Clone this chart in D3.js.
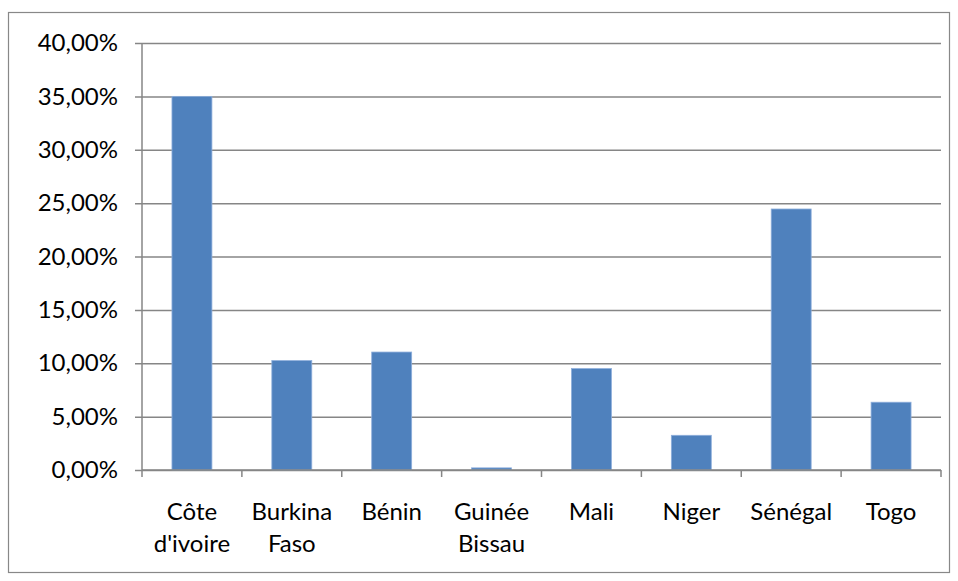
<!DOCTYPE html>
<html>
<head>
<meta charset="utf-8">
<script src="https://cdn.jsdelivr.net/npm/d3@7"></script>
<style>
  body { margin: 0; background: #fff; }
  text { font-family: Lato, "Open Sans", sans-serif; fill: #000; }
</style>
</head>
<body>
<svg id="chart" width="958" height="581"></svg>
<script>
// categories and values (share, %)
const countries = [
  ["Côte", "d'ivoire"],
  ["Burkina", "Faso"],
  ["Bénin"],
  ["Guinée", "Bissau"],
  ["Mali"],
  ["Niger"],
  ["Sénégal"],
  ["Togo"]
];
const shares = [35.0, 10.25, 11.05, 0.2, 9.5, 3.25, 24.45, 6.35];
const yTicks = [0, 5, 10, 15, 20, 25, 30, 35, 40];

const svg = d3.select("#chart");
const margin = { left: 142, right: 17, top: 43, bottom: 111 };
const W = 958, H = 581;
const innerW = W - margin.left - margin.right;
const innerH = H - margin.top - margin.bottom;

// outer frame
svg.append("rect")
  .attr("x", 8.5).attr("y", 12.5)
  .attr("width", 941).attr("height", 560)
  .attr("fill", "none")
  .attr("stroke", "#888")
  .attr("stroke-width", 1.2);

const g = svg.append("g")
  .attr("transform", "translate(" + margin.left + "," + margin.top + ")");

const x = d3.scaleBand()
  .domain(d3.range(countries.length))
  .range([0, innerW])
  .paddingInner(0.6)
  .paddingOuter(0.3);

const y = d3.scaleLinear().domain([0, 40]).range([innerH, 0]);

const fmt = d => d3.format(".2f")(d).replace(".", ",") + "%";

// gridlines + y axis
const yAxis = g.append("g")
  .call(d3.axisLeft(y).tickValues(yTicks).tickSize(-innerW).tickFormat(fmt).tickPadding(24));
yAxis.select(".domain").remove();
yAxis.selectAll(".tick line")
  .attr("x1", -7)
  .attr("stroke", "#868686")
  .attr("stroke-width", 1.5);
yAxis.selectAll(".tick text")
  .style("font-size", "24px")
  .style("font-family", "Lato, 'Open Sans', sans-serif");

// vertical axis line
g.append("line")
  .attr("x1", 0).attr("x2", 0)
  .attr("y1", 0).attr("y2", innerH)
  .attr("stroke", "#868686")
  .attr("stroke-width", 1.5);

// bars
g.selectAll(".bar")
  .data(shares)
  .enter()
  .append("rect")
  .attr("class", "bar")
  .attr("x", (d, i) => x(i))
  .attr("y", d => y(d))
  .attr("width", x.bandwidth())
  .attr("height", d => innerH - y(d))
  .attr("fill", "#4F81BD")
  .attr("stroke", "#8EAEDB")
  .attr("stroke-width", 0.8);

// x axis baseline and boundary ticks
const step = innerW / countries.length;
g.append("line")
  .attr("x1", 0).attr("x2", innerW)
  .attr("y1", innerH).attr("y2", innerH)
  .attr("stroke", "#868686")
  .attr("stroke-width", 1.5);
g.selectAll(".xtick")
  .data(d3.range(countries.length + 1))
  .enter()
  .append("line")
  .attr("x1", i => i * step).attr("x2", i => i * step)
  .attr("y1", innerH).attr("y2", innerH + 7)
  .attr("stroke", "#868686")
  .attr("stroke-width", 1.5);

// category labels
const labels = g.selectAll(".xlab")
  .data(countries)
  .enter()
  .append("text")
  .attr("class", "xlab")
  .attr("text-anchor", "middle")
  .style("font-size", "24px")
  .attr("transform", (d, i) => "translate(" + (x(i) + x.bandwidth() / 2) + "," + (innerH + 50) + ")");
labels.selectAll("tspan")
  .data(d => d)
  .enter()
  .append("tspan")
  .attr("x", 0)
  .attr("dy", (d, i) => i === 0 ? 0 : 32)
  .text(d => d);
</script>
</body>
</html>
